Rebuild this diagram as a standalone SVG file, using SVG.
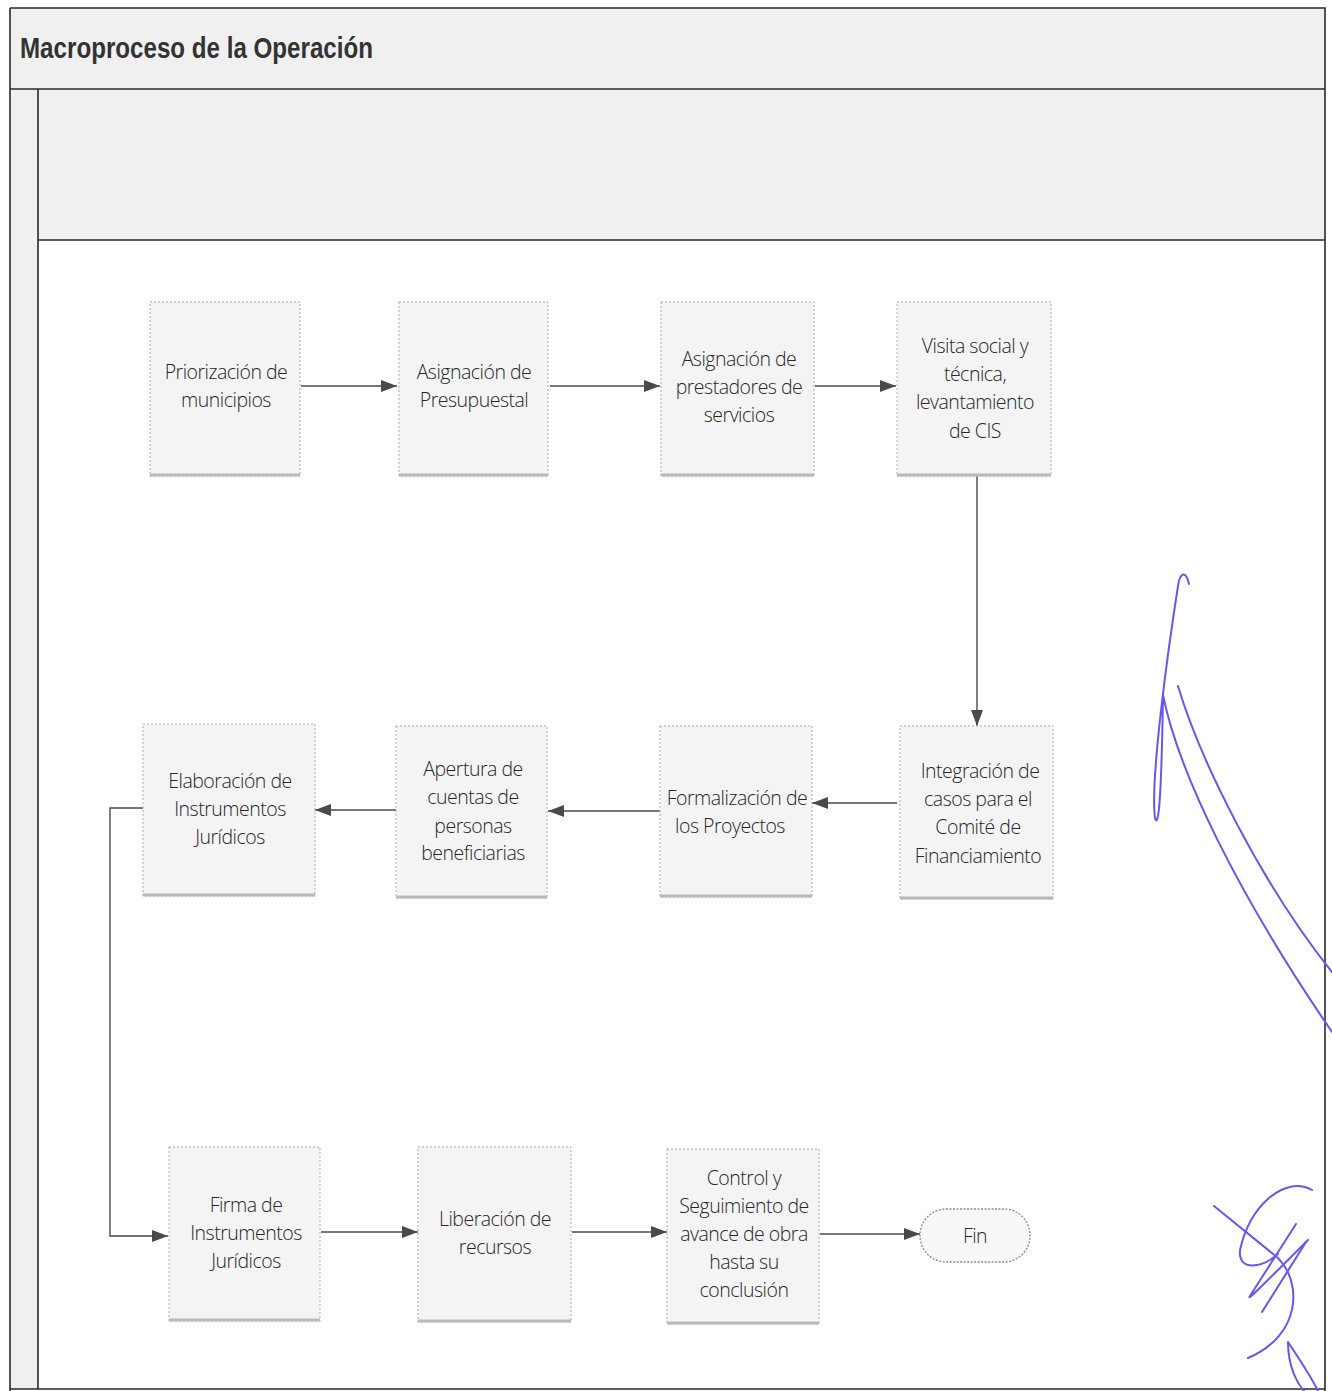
<svg xmlns="http://www.w3.org/2000/svg" width="1332" height="1391" viewBox="0 0 1332 1391">
  <style>
    .frame { fill: none; stroke: #2a2a2a; stroke-width: 1.6; }
    .band { fill: #f0f0f0; stroke: none; }
    .title { font-family: "Liberation Sans Narrow", "Liberation Sans", Arial, sans-serif; font-size: 30px; font-weight: bold; fill: #333333; }
    .box { fill: #f4f4f4; stroke: #a9a9a9; stroke-width: 1; stroke-dasharray: 2 2; }
    .shadow { fill: none; stroke: #b9b9b9; stroke-width: 3; }
    .lbl { font-family: "Open Sans", "Noto Sans", "DejaVu Sans", sans-serif; font-weight: 300; font-size: 19.5px; fill: #262626; text-anchor: middle; letter-spacing: -0.5px; }
    .conn { fill: none; stroke: #4a4a4a; stroke-width: 1.4; }
    .ink { fill: none; stroke: #6a55ee; stroke-width: 2; stroke-linecap: round; stroke-linejoin: round; }
  </style>
  <defs>
    <marker id="arrow" viewBox="0 0 16 12" refX="16" refY="6" markerWidth="16" markerHeight="12" markerUnits="userSpaceOnUse" orient="auto">
      <path d="M0,0 L16,6 L0,12 Z" fill="#4a4a4a"/>
    </marker>
  </defs>

  <rect width="1332" height="1391" fill="#ffffff"/>

  <!-- pool header, upper lane and left strip -->
  <rect class="band" x="10" y="8" width="1315" height="81"/>
  <rect class="band" x="38" y="89" width="1287" height="151"/>
  <rect class="band" x="10" y="89" width="28" height="1300"/>
  <path class="frame" d="M10,8 H1325 V1391 M10,8 V1391 M10,89 H1325 M38,89 V1389 M38,240 H1325 M10,1389 H1325"/>
  <text class="title" x="20" y="58" textLength="353" lengthAdjust="spacingAndGlyphs">Macroproceso de la Operación</text>

  <!-- connectors -->
  <g id="connectors">
    <path class="conn" d="M301,386 H397" marker-end="url(#arrow)"/>
    <path class="conn" d="M550,386 H660" marker-end="url(#arrow)"/>
    <path class="conn" d="M815,386 H896" marker-end="url(#arrow)"/>
    <path class="conn" d="M977,476 V726" marker-end="url(#arrow)"/>
    <path class="conn" d="M897,803 H812" marker-end="url(#arrow)"/>
    <path class="conn" d="M660,811 H548" marker-end="url(#arrow)"/>
    <path class="conn" d="M396,810 H315" marker-end="url(#arrow)"/>
    <path class="conn" d="M143,808 H110 V1236 H168" marker-end="url(#arrow)"/>
    <path class="conn" d="M321,1232 H418" marker-end="url(#arrow)"/>
    <path class="conn" d="M572,1232 H667" marker-end="url(#arrow)"/>
    <path class="conn" d="M820,1234 H920" marker-end="url(#arrow)"/>
  </g>

  <!-- row 1 -->
  <g id="n-priorizacion">
    <rect class="box" x="150" y="302" width="150" height="174"/>
    <path class="shadow" d="M150,475 H300"/>
    <text class="lbl" x="226" y="379">Priorización de</text>
    <text class="lbl" x="226" y="407">municipios</text>
  </g>
  <g id="n-presupuestal">
    <rect class="box" x="399" y="302" width="149" height="174"/>
    <path class="shadow" d="M399,475 H548"/>
    <text class="lbl" x="474" y="379">Asignación de</text>
    <text class="lbl" x="474" y="407">Presupuestal</text>
  </g>
  <g id="n-prestadores">
    <rect class="box" x="661" y="302" width="153" height="174"/>
    <path class="shadow" d="M661,475 H814"/>
    <text class="lbl" x="739" y="366">Asignación de</text>
    <text class="lbl" x="739" y="394">prestadores de</text>
    <text class="lbl" x="739" y="422">servicios</text>
  </g>
  <g id="n-visita">
    <rect class="box" x="897" y="302" width="154" height="174"/>
    <path class="shadow" d="M897,475 H1051"/>
    <text class="lbl" x="975" y="353">Visita social y</text>
    <text class="lbl" x="975" y="381">técnica,</text>
    <text class="lbl" x="975" y="409">levantamiento</text>
    <text class="lbl" x="975" y="438">de CIS</text>
  </g>

  <!-- row 2 -->
  <g id="n-elaboracion">
    <rect class="box" x="143" y="724" width="172" height="172"/>
    <path class="shadow" d="M143,895 H315"/>
    <text class="lbl" x="230" y="788">Elaboración de</text>
    <text class="lbl" x="230" y="816">Instrumentos</text>
    <text class="lbl" x="230" y="844">Jurídicos</text>
  </g>
  <g id="n-apertura">
    <rect class="box" x="396" y="726" width="151" height="172"/>
    <path class="shadow" d="M396,897 H547"/>
    <text class="lbl" x="473" y="776">Apertura de</text>
    <text class="lbl" x="473" y="804">cuentas de</text>
    <text class="lbl" x="473" y="833">personas</text>
    <text class="lbl" x="473" y="860">beneficiarias</text>
  </g>
  <g id="n-formalizacion">
    <rect class="box" x="660" y="726" width="152" height="171"/>
    <path class="shadow" d="M660,896 H812"/>
    <text class="lbl" x="737" y="805">Formalización de</text>
    <text class="lbl" x="730" y="833">los Proyectos</text>
  </g>
  <g id="n-integracion">
    <rect class="box" x="900" y="726" width="153" height="173"/>
    <path class="shadow" d="M900,898 H1053"/>
    <text class="lbl" x="980" y="778">Integración de</text>
    <text class="lbl" x="978" y="806">casos para el</text>
    <text class="lbl" x="978" y="834">Comité de</text>
    <text class="lbl" x="978" y="863">Financiamiento</text>
  </g>

  <!-- row 3 -->
  <g id="n-firma">
    <rect class="box" x="169" y="1147" width="151" height="174"/>
    <path class="shadow" d="M169,1320 H320"/>
    <text class="lbl" x="246" y="1212">Firma de</text>
    <text class="lbl" x="246" y="1240">Instrumentos</text>
    <text class="lbl" x="246" y="1268">Jurídicos</text>
  </g>
  <g id="n-liberacion">
    <rect class="box" x="418" y="1147" width="153" height="175"/>
    <path class="shadow" d="M418,1321 H571"/>
    <text class="lbl" x="495" y="1226">Liberación de</text>
    <text class="lbl" x="495" y="1254">recursos</text>
  </g>
  <g id="n-control">
    <rect class="box" x="667" y="1149" width="152" height="175"/>
    <path class="shadow" d="M667,1323 H819"/>
    <text class="lbl" x="744" y="1185">Control y</text>
    <text class="lbl" x="744" y="1213">Seguimiento de</text>
    <text class="lbl" x="744" y="1241">avance de obra</text>
    <text class="lbl" x="744" y="1269">hasta su</text>
    <text class="lbl" x="744" y="1297">conclusión</text>
  </g>
  <g id="n-fin">
    <rect x="920" y="1209" width="110" height="53" rx="26" ry="26" fill="#f8f8f8" stroke="#8c8c8c" stroke-width="1.3" stroke-dasharray="2 1.5"/>
    <text class="lbl" x="975" y="1243">Fin</text>
  </g>

  <!-- handwritten initials in the margin -->
  <g id="initials">
    <path class="ink" d="M1189,584 C1186,570 1180,572 1178,586 C1168,650 1150,780 1155,818 C1160,834 1162,760 1163,695 C1178,770 1235,890 1332,1032"/>
    <path class="ink" d="M1178,686 C1200,760 1262,885 1332,972"/>
    <path class="ink" d="M1214,1206 L1278,1258 C1302,1282 1302,1335 1248,1358"/>
    <path class="ink" d="M1312,1190 C1285,1175 1250,1205 1240,1250 C1238,1272 1262,1268 1278,1254"/>
    <path class="ink" d="M1296,1224 L1250,1296 C1246,1302 1262,1286 1308,1240"/>
    <path class="ink" d="M1306,1242 L1262,1312"/>
    <path class="ink" d="M1288,1342 C1300,1360 1312,1378 1318,1391 M1288,1342 C1288,1368 1298,1384 1304,1391"/>
  </g>
</svg>
